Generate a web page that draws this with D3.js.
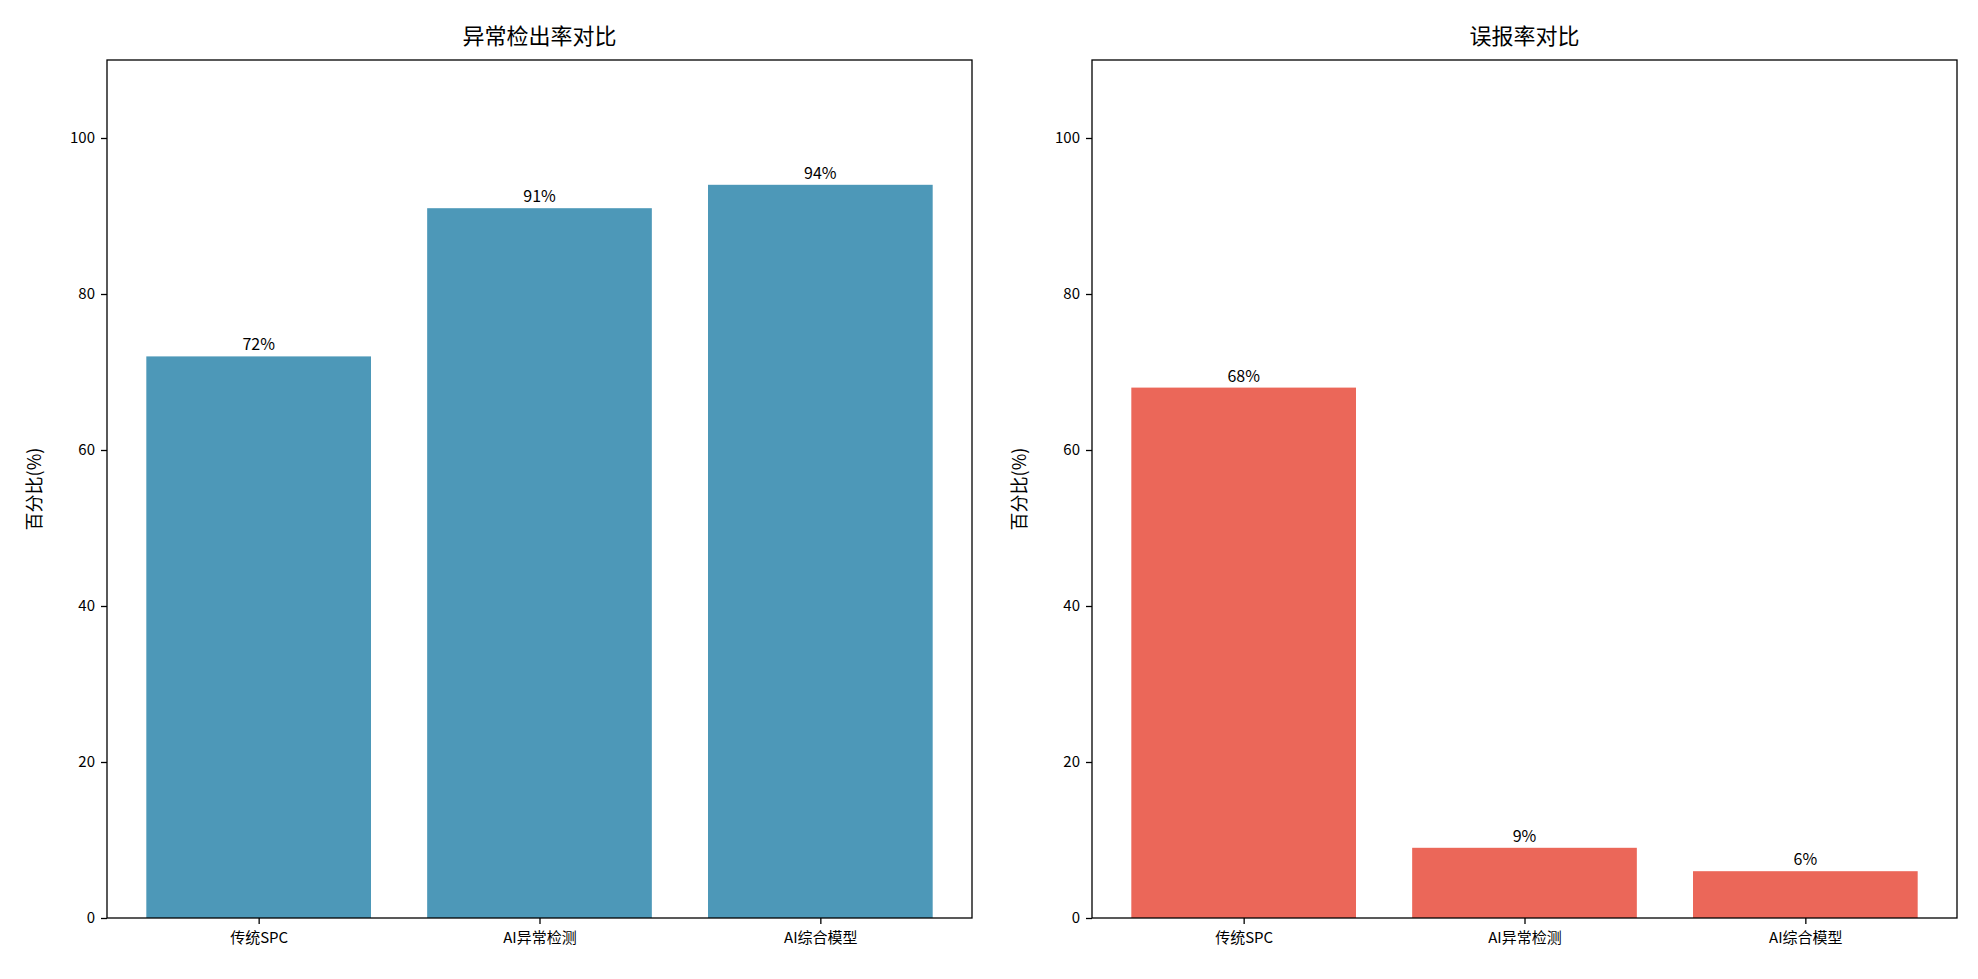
<!DOCTYPE html>
<html>
<head>
<meta charset="utf-8">
<script src="https://cdn.jsdelivr.net/npm/d3@7"></script>
<style>
  body { margin: 0; background: #fff; }
  svg text { font-family: "Noto Sans CJK SC", "DejaVu Sans", sans-serif; fill: #000; }
</style>
</head>
<body>
<svg id="fig"></svg>
<script>
"use strict";

var Width = 1978,
    Height = 979,
    categories = ["传统SPC", "AI异常检测", "AI综合模型"],
    detectRates = [72, 91, 94],
    falseRates = [68, 9, 6],
    yTicks = [0, 20, 40, 60, 80, 100],
    titles = ["异常检出率对比", "误报率对比"],
    yLabel = "百分比(%)",
    colors = ["#4D98B8", "#EB6759"];

var svg = d3.select("#fig")
    .attr("width", Width)
    .attr("height", Height);

// two panels, same size
var panels = [
    { left: 107, values: detectRates, title: titles[0], color: colors[0] },
    { left: 1092, values: falseRates, title: titles[1], color: colors[1] }
];
var plotTop = 60, plotBottom = 918, panelW = 865;

var y = d3.scaleLinear().domain([0, 110]).range([plotBottom, plotTop]);

panels.forEach(function (p) {
    // matplotlib-like xlim: -0.54 .. 2.54
    var x = d3.scaleLinear().domain([-0.54, 2.54]).range([p.left, p.left + panelW]);
    var bw = x(0.8) - x(0);
    var g = svg.append("g");

    g.selectAll("rect.bar")
        .data(p.values)
        .enter()
        .append("rect")
        .attr("class", "bar")
        .attr("x", function (d, i) { return x(i - 0.4); })
        .attr("y", function (d) { return y(d); })
        .attr("width", bw)
        .attr("height", function (d) { return y(0) - y(d); })
        .attr("fill", p.color);

    g.selectAll("text.val")
        .data(p.values)
        .enter()
        .append("text")
        .attr("class", "val")
        .attr("x", function (d, i) { return x(i); })
        .attr("y", function (d) { return y(d) - 6; })
        .attr("text-anchor", "middle")
        .attr("font-size", 16)
        .text(function (d) { return d + "%"; });

    // y axis
    var yAxis = g.append("g")
        .attr("transform", "translate(" + p.left + ",0)")
        .call(d3.axisLeft(y).tickValues(yTicks).tickSize(6).tickPadding(6));
    yAxis.select(".domain").remove();
    yAxis.selectAll("text").attr("font-size", 15).attr("font-family", null);
    yAxis.selectAll("line").attr("stroke-width", 1.3);

    // x axis
    var xAxis = g.append("g")
        .attr("transform", "translate(0," + plotBottom + ")")
        .call(d3.axisBottom(x).tickValues([0, 1, 2]).tickSize(6).tickPadding(8)
            .tickFormat(function (d) { return categories[d]; }));
    xAxis.select(".domain").remove();
    xAxis.selectAll("text").attr("font-size", 15).attr("font-family", null);
    xAxis.selectAll("line").attr("stroke-width", 1.3);

    // frame
    g.append("rect")
        .attr("x", p.left)
        .attr("y", plotTop)
        .attr("width", panelW)
        .attr("height", plotBottom - plotTop)
        .attr("fill", "none")
        .attr("stroke", "#000")
        .attr("stroke-width", 1.3);

    g.append("text")
        .attr("x", p.left + panelW / 2)
        .attr("y", plotTop - 16)
        .attr("text-anchor", "middle")
        .attr("font-size", 22)
        .text(p.title);

    g.append("text")
        .attr("transform", "translate(" + (p.left - 66) + "," + ((plotTop + plotBottom) / 2) + ") rotate(-90)")
        .attr("text-anchor", "middle")
        .attr("font-size", 18)
        .text(yLabel);
});
</script>
</body>
</html>
